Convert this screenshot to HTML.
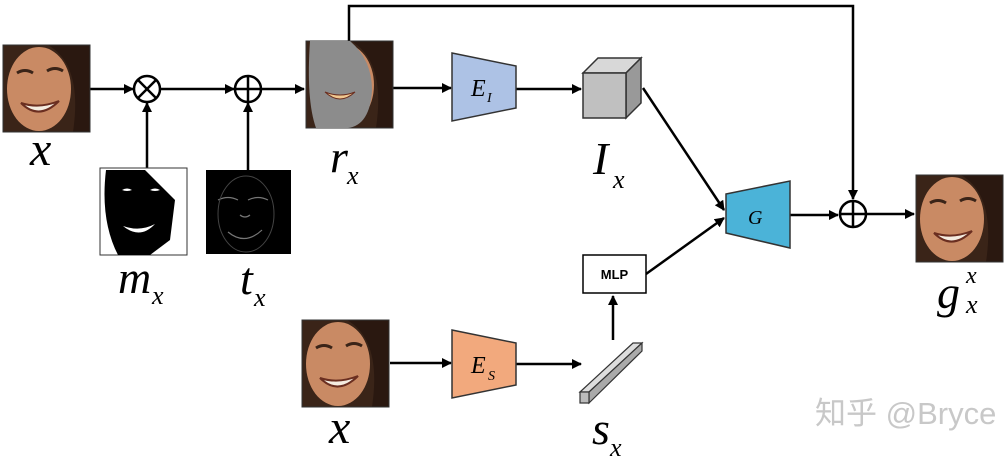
<!DOCTYPE html>
<html><head><meta charset="utf-8"><style>
html,body{margin:0;padding:0;background:#fff;}
svg{display:block;}
.m{font-family:"Liberation Serif",serif;font-style:italic;fill:#000;}
</style></head><body>
<svg width="1007" height="461" viewBox="0 0 1007 461" xmlns="http://www.w3.org/2000/svg">
<defs>
<marker id="a" markerWidth="10" markerHeight="10" refX="9" refY="5" orient="auto" markerUnits="userSpaceOnUse">
<path d="M0,0 L10,5 L0,10 z" fill="#000"/></marker>
<g id="face">
<rect x="0" y="0" width="87" height="87" fill="#3a2418"/>
<ellipse cx="36" cy="44" rx="32" ry="42" fill="#c98a64"/>
<path d="M45,0 Q80,20 70,87 L87,87 L87,0 z" fill="#2a1810"/>
<path d="M14,28 q8,-5 16,0 M44,26 q8,-5 16,0" stroke="#3a2418" stroke-width="3" fill="none"/>
<path d="M18,58 Q36,76 56,56 Q36,64 18,58 z" fill="#f4ece0" stroke="#6a2e20" stroke-width="2"/>
<rect x="0" y="0" width="87" height="87" fill="none" stroke="#333" stroke-width="1"/>
</g>
</defs>
<g stroke="#000" stroke-width="2.5" fill="none">
<!-- top row -->
<line x1="90" y1="89" x2="133" y2="89" marker-end="url(#a)"/>
<line x1="160" y1="89" x2="234" y2="89" marker-end="url(#a)"/>
<line x1="261" y1="89" x2="304" y2="89" marker-end="url(#a)"/>
<line x1="147" y1="168" x2="147" y2="103" marker-end="url(#a)"/>
<line x1="248" y1="170" x2="248" y2="103" marker-end="url(#a)"/>
<circle cx="147" cy="89" r="13"/>
<line x1="138" y1="80" x2="156" y2="98"/><line x1="156" y1="80" x2="138" y2="98"/>
<circle cx="248" cy="89" r="13"/>
<line x1="235" y1="89" x2="261" y2="89"/><line x1="248" y1="76" x2="248" y2="102"/>
<polyline points="349,41 349,6 853,6 853,199" marker-end="url(#a)"/>
<line x1="393" y1="88" x2="451" y2="88" marker-end="url(#a)"/>
<line x1="516" y1="89" x2="581" y2="89" marker-end="url(#a)"/>
<line x1="643" y1="88" x2="724" y2="210" marker-end="url(#a)"/>
<line x1="646" y1="274" x2="724" y2="218" marker-end="url(#a)"/>
<line x1="790" y1="215" x2="838" y2="215" marker-end="url(#a)"/>
<line x1="866" y1="214" x2="914" y2="214" marker-end="url(#a)"/>
<circle cx="853" cy="214" r="13"/>
<line x1="840" y1="214" x2="866" y2="214"/><line x1="853" y1="201" x2="853" y2="227"/>
<line x1="390" y1="363" x2="451" y2="363" marker-end="url(#a)"/>
<line x1="516" y1="364" x2="581" y2="364" marker-end="url(#a)"/>
<line x1="613" y1="340" x2="613" y2="296" marker-end="url(#a)"/>
</g>
<!-- images -->
<use href="#face" x="3" y="45"/>
<rect x="100" y="168" width="87" height="87" fill="#fff" stroke="#333"/>
<path d="M106,170 L145,170 L175,200 L170,240 L150,255 L118,255 Q100,220 106,170 z" fill="#000"/>
<path d="M122,190 q5,-3 10,0 q-5,2 -10,0 M150,190 q5,-3 10,0 q-5,2 -10,0" fill="#fff"/>
<path d="M123,226 Q140,240 155,224 Q140,232 123,226 z" fill="#fff"/>
<rect x="206" y="170" width="85" height="84" fill="#000"/>
<path d="M218,200 q10,-5 20,0 M248,200 q10,-5 20,0 M228,232 Q245,246 262,230 M240,215 q5,4 10,0" stroke="#777" stroke-width="1.2" fill="none"/>
<ellipse cx="246" cy="214" rx="28" ry="38" fill="none" stroke="#444"/>
<use href="#face" x="306" y="41"/>
<path d="M310,41 L350,41 Q372,60 372,90 Q370,125 348,128 L316,128 Q306,100 310,41 z" fill="#8c8c8c"/>
<path d="M325,92 Q340,106 355,92 Q340,98 325,92 z" fill="#f0c890" stroke="#6a2e20"/>
<use href="#face" x="916" y="175"/>
<use href="#face" x="302" y="320"/>
<!-- encoders -->
<polygon points="452,53 516,66 516,108 452,121" fill="#adc2e5" stroke="#333" stroke-width="1.5"/>
<text class="m" x="471" y="96" font-size="24">E</text><text class="m" x="487" y="102" font-size="14">I</text>
<polygon points="452,330 516,343 516,385 452,398" fill="#f2a97d" stroke="#333" stroke-width="1.5"/>
<text class="m" x="471" y="373" font-size="24">E</text><text class="m" x="488" y="380" font-size="14">S</text>
<polygon points="726,194 790,181 790,248 726,233" fill="#4bb3d8" stroke="#333" stroke-width="1.5"/>
<text class="m" x="748" y="224" font-size="20">G</text>
<!-- cube -->
<polygon points="583,73 598,58 641,58 626,73" fill="#d8d8d8" stroke="#333" stroke-width="1.5"/>
<polygon points="626,73 641,58 641,103 626,118" fill="#999" stroke="#333" stroke-width="1.5"/>
<rect x="583" y="73" width="43" height="45" fill="#c0c0c0" stroke="#333" stroke-width="1.5"/>
<!-- MLP -->
<rect x="583" y="255" width="63" height="38" fill="#fff" stroke="#000" stroke-width="1.5"/>
<text x="614.5" y="279" font-family="Liberation Sans,sans-serif" font-weight="bold" font-size="13" text-anchor="middle">MLP</text>
<!-- sx bar -->
<polygon points="580,392 633,343 642,343 589,392" fill="#ddd" stroke="#333" stroke-width="1.2"/>
<polygon points="589,392 642,343 642,351 589,403" fill="#aaa" stroke="#333" stroke-width="1.2"/>
<rect x="580" y="392" width="9" height="11" fill="#bbb" stroke="#333" stroke-width="1.2"/>
<!-- labels -->
<text class="m" x="30" y="165" font-size="48">x</text>
<text class="m" x="118" y="293" font-size="46">m</text><text class="m" x="152" y="304" font-size="26">x</text>
<text class="m" x="240" y="294" font-size="46">t</text><text class="m" x="254" y="306" font-size="26">x</text>
<text class="m" x="330" y="172" font-size="46">r</text><text class="m" x="347" y="184" font-size="26">x</text>
<text class="m" x="593" y="174" font-size="46">I</text><text class="m" x="613" y="188" font-size="26">x</text>
<text class="m" x="937" y="308" font-size="46">g</text><text class="m" x="966" y="283" font-size="24">x</text><text class="m" x="966" y="313" font-size="26">x</text>
<text class="m" x="329" y="443" font-size="48">x</text>
<text class="m" x="592" y="444" font-size="46">s</text><text class="m" x="610" y="456" font-size="26">x</text>
<text x="815" y="424" font-family="Liberation Sans,'Noto Sans CJK SC',sans-serif" font-size="31" fill="#c8c8c8">知乎 @Bryce</text>
</svg>
</body></html>
